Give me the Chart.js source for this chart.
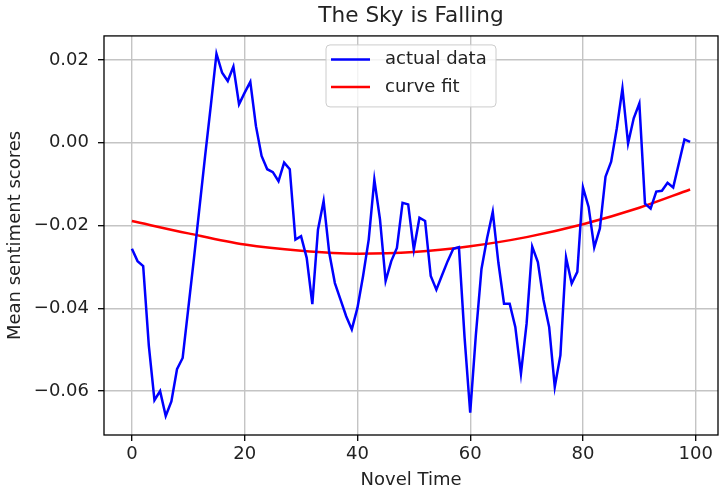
<!DOCTYPE html>
<html>
<head>
<meta charset="utf-8">
<script src="https://cdn.jsdelivr.net/npm/chart.js@4"></script>
<style>
  html, body { margin: 0; padding: 0; background: #fff; }
  #wrap { width: 720px; height: 491px; }
</style>
</head>
<body>
<div id="wrap"><canvas id="chart" width="720" height="491"></canvas></div>
<script>
// mean sentiment per novel time step
const actualData = [
  -0.0256, -0.0286, -0.0298, -0.0490, -0.0622, -0.0600, -0.0660, -0.0625, -0.0547, -0.0520,
  -0.0400, -0.0280, -0.0155, -0.0030, 0.0090, 0.0215, 0.0169, 0.0149, 0.0184, 0.0093,
  0.0121, 0.0147, 0.0040, -0.0032, -0.0064, -0.0071, -0.0093, -0.0048, -0.0064, -0.0234,
  -0.0226, -0.0278, -0.0390, -0.0210, -0.0141, -0.0266, -0.0339, -0.0379, -0.0419, -0.0451,
  -0.0399, -0.0322, -0.0234, -0.0089, -0.0185, -0.0334, -0.0286, -0.0254, -0.0145, -0.0149,
  -0.0258, -0.0181, -0.0189, -0.0322, -0.0355, -0.0320, -0.0286, -0.0256, -0.0252, -0.0470,
  -0.0652, -0.0465, -0.0305, -0.0230, -0.0167, -0.0290, -0.0389, -0.0389, -0.0445, -0.0558,
  -0.0437, -0.0251, -0.0288, -0.0380, -0.0445, -0.0590, -0.0513, -0.0277, -0.0340, -0.0312,
  -0.0108, -0.0155, -0.0253, -0.0207, -0.0082, -0.0046, 0.0035, 0.0131, -0.0002, 0.0059,
  0.0095, -0.0147, -0.0159, -0.0118, -0.0116, -0.0097, -0.0108, -0.0050, 0.0008, 0.0002,
]
const novelTime = actualData.map((v, i) => i)

// quadratic fit, sampled from the red curve
const fitTime = [0, 10, 20, 30, 40, 50, 60, 70, 80, 90, 99]
const fitData = [-0.0189, -0.0219, -0.0246, -0.0261, -0.0268, -0.0264, -0.0250, -0.0228, -0.0197, -0.0157, -0.0113]

const xTicks = [0, 20, 40, 60, 80, 100]
const yTicks = [-0.06, -0.04, -0.02, 0, 0.02]

const FONT = "'DejaVu Sans', sans-serif"

// black box around the plot, like matplotlib spines
const frame = {
  id: "frame",
  afterDraw(chart) {
    const { ctx, chartArea } = chart
    ctx.save()
    ctx.strokeStyle = "#000"
    ctx.lineWidth = 1.3
    ctx.strokeRect(chartArea.left, chartArea.top, chartArea.right - chartArea.left, chartArea.bottom - chartArea.top)
    ctx.restore()
  },
}

// legend inside the axes, upper center
const legendBox = {
  id: "legendBox",
  afterDraw(chart) {
    const { ctx, chartArea } = chart
    const w = 170
    const h = 62
    const x0 = (chartArea.left + chartArea.right) / 2 - w / 2
    const y0 = chartArea.top + 9
    ctx.save()
    ctx.beginPath()
    if (ctx.roundRect) ctx.roundRect(x0, y0, w, h, 4)
    else ctx.rect(x0, y0, w, h)
    ctx.fillStyle = "rgba(255,255,255,0.8)"
    ctx.fill()
    ctx.strokeStyle = "#cccccc"
    ctx.lineWidth = 1
    ctx.stroke()
    chart.data.datasets.forEach((ds, i) => {
      const y = y0 + 14.5 + i * 27.5
      ctx.beginPath()
      ctx.moveTo(x0 + 5, y)
      ctx.lineTo(x0 + 44, y)
      ctx.strokeStyle = ds.borderColor
      ctx.lineWidth = 2.5
      ctx.stroke()
      ctx.fillStyle = "#222"
      ctx.font = "18px " + FONT
      ctx.textBaseline = "middle"
      ctx.textAlign = "left"
      ctx.fillText(ds.label, x0 + 59, y)
    })
    ctx.restore()
  },
}

const config = {
  type: "scatter",
  data: {
    datasets: [
      {
        label: "actual data",
        data: novelTime.map((t, i) => ({ x: t, y: actualData[i] })),
        showLine: true,
        borderColor: "#0000ff",
        borderWidth: 2.5,
        pointRadius: 0,
        tension: 0,
      },
      {
        label: "curve fit",
        data: fitTime.map((t, i) => ({ x: t, y: fitData[i] })),
        showLine: true,
        borderColor: "#ff0000",
        borderWidth: 2.5,
        pointRadius: 0,
        cubicInterpolationMode: "monotone",
      },
    ],
  },
  options: {
    responsive: false,
    animation: false,
    devicePixelRatio: 1,
    layout: { padding: { left: 0, right: 2, top: 0, bottom: 0 } },
    plugins: {
      legend: { display: false },
      tooltip: { enabled: false },
      title: {
        display: true,
        text: "The Sky is Falling",
        fullSize: false,
        color: "#222",
        font: { family: FONT, size: 21.6, weight: "normal", lineHeight: 1.2 },
        padding: { top: 3, bottom: 7 },
      },
    },
    scales: {
      x: {
        type: "linear",
        min: -4.95,
        max: 103.95,
        afterBuildTicks: (scale) => {
          scale.ticks = xTicks.map((v) => ({ value: v }))
        },
        afterFit: (scale) => {
          scale.height = 56
        },
        grid: {
          color: "#c4c4c4",
          lineWidth: 1.4,
          drawTicks: true,
          tickLength: 6,
          tickColor: "#000",
          tickWidth: 1.3,
        },
        border: { display: false },
        ticks: {
          color: "#222",
          padding: 3,
          font: { family: FONT, size: 18 },
          callback: (v) => String(v),
        },
        title: {
          display: true,
          text: "Novel Time",
          color: "#222",
          font: { family: FONT, size: 18 },
          padding: { top: 0, bottom: 0 },
        },
      },
      y: {
        type: "linear",
        min: -0.0706,
        max: 0.0258,
        afterBuildTicks: (scale) => {
          scale.ticks = yTicks.map((v) => ({ value: v }))
        },
        afterFit: (scale) => {
          scale.width = 104
        },
        grid: {
          color: "#c4c4c4",
          lineWidth: 1.4,
          drawTicks: true,
          tickLength: 6,
          tickColor: "#000",
          tickWidth: 1.3,
        },
        border: { display: false },
        ticks: {
          color: "#222",
          padding: 9,
          font: { family: FONT, size: 18 },
          callback: (v) => v.toFixed(2).replace("-", "\u2212"),
        },
        title: {
          display: true,
          text: "Mean sentiment scores",
          color: "#222",
          font: { family: FONT, size: 18 },
          padding: { top: 5, bottom: 0 },
        },
      },
    },
  },
  plugins: [frame, legendBox],
}

const chart = new Chart(document.getElementById("chart"), config)
</script>
</body>
</html>
